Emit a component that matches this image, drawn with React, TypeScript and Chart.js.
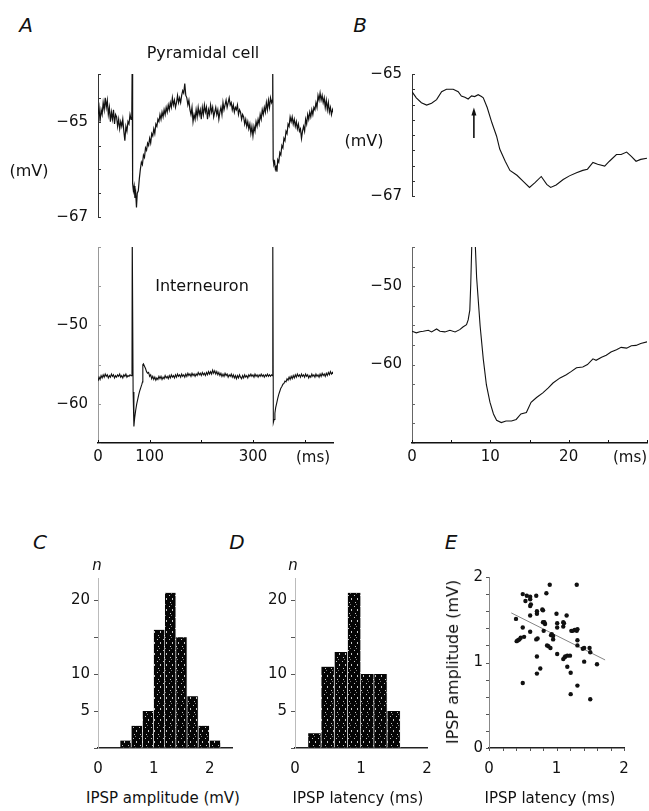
import React, { useEffect, useRef } from "react";
import { Chart, registerables } from "chart.js";

Chart.register(...registerables);

const FONT = "'DejaVu Sans', 'Liberation Sans', Arial, sans-serif";
const MINUS = "\u2212";

// ---------- Panel A, pyramidal cell: [time (ms), membrane potential (mV)]
const PYR_TRACE: [number, number][] = [
  [0,-64.85],[2,-64.7],[4,-65.0],[6,-64.75],[8,-64.85],[10,-64.6],[12,-64.75],[14,-64.5],[16,-64.7],[18,-64.55],
  [20,-64.85],[22,-64.7],[24,-65.0],[26,-64.8],[28,-64.95],[30,-64.75],[32,-65.05],[34,-64.85],[36,-64.9],[38,-65.1],
  [40,-64.95],[42,-65.15],[44,-65.0],[46,-65.1],[48,-64.95],[50,-65.2],[52,-65.4],[54,-65.1],[56,-65.2],[58,-65.0],
  [60,-65.05],[62,-64.85],[64,-64.95],[65.5,-64.8],[66.2,-63.8],[66.8,-63.8],[67.3,-66.3],[68.5,-66.45],[70,-66.35],
  [71.5,-66.6],[73,-66.5],[74.5,-66.8],[76,-66.5],[78,-66.45],[80,-66.2],[82,-66.0],[84,-65.85],[86,-65.9],[88,-65.7],
  [90,-65.75],[92,-65.55],[94,-65.6],[96,-65.45],[98,-65.5],[100,-65.35],[102,-65.45],[104,-65.25],[106,-65.3],
  [108,-65.15],[110,-65.25],[112,-65.05],[114,-65.1],[116,-64.95],[118,-65.0],[120,-64.85],[122,-64.95],[124,-64.8],
  [126,-64.9],[128,-64.75],[130,-64.85],[132,-64.7],[134,-64.8],[136,-64.65],[138,-64.75],[140,-64.6],[142,-64.7],
  [144,-64.5],[146,-64.65],[148,-64.55],[150,-64.7],[152,-64.6],[154,-64.45],[156,-64.6],[158,-64.5],[160,-64.6],
  [162,-64.45],[164,-64.35],[166,-64.4],[168,-64.2],[170,-64.45],[172,-64.5],[174,-64.65],[176,-64.55],[178,-64.75],
  [180,-64.85],[182,-64.7],[184,-65.0],[186,-64.85],[188,-64.95],[190,-64.75],[192,-64.9],[194,-64.7],[196,-64.85],
  [198,-64.75],[200,-64.95],[202,-64.7],[204,-64.85],[206,-64.65],[208,-64.8],[210,-64.7],[212,-64.95],[214,-64.75],
  [216,-64.85],[218,-64.65],[220,-64.8],[222,-64.7],[224,-64.9],[226,-64.8],[228,-64.7],[230,-64.85],[232,-64.75],
  [234,-64.95],[236,-64.8],[238,-64.7],[240,-64.85],[242,-64.6],[244,-64.75],[246,-64.65],[248,-64.55],[250,-64.7],
  [252,-64.6],[254,-64.5],[256,-64.65],[258,-64.6],[260,-64.75],[262,-64.65],[264,-64.8],[266,-64.7],[268,-64.75],
  [270,-64.65],[272,-64.85],[274,-64.75],[276,-64.8],[278,-64.95],[280,-64.85],[282,-64.9],[284,-65.05],[286,-64.95],
  [288,-65.1],[290,-65.0],[292,-65.15],[294,-65.05],[296,-65.25],[298,-65.1],[300,-65.3],[302,-65.1],[304,-65.2],
  [306,-65.0],[308,-65.1],[310,-64.95],[312,-65.05],[314,-64.85],[316,-64.95],[318,-64.75],[320,-64.85],[322,-64.7],
  [324,-64.8],[326,-64.6],[328,-64.75],[330,-64.55],[332,-64.7],[334,-64.5],[336,-64.6],[337.5,-64.55],[338,-63.8],
  [338.6,-63.8],[339.2,-65.8],[340.5,-65.9],[342,-65.85],[343.5,-66.0],[345,-65.95],[346.5,-66.05],[348,-65.8],
  [350,-65.85],[352,-65.65],[354,-65.7],[356,-65.5],[358,-65.55],[360,-65.35],[362,-65.4],[364,-65.2],[366,-65.25],
  [368,-65.05],[370,-65.1],[372,-64.9],[374,-65.0],[376,-64.9],[378,-65.05],[380,-64.95],[382,-65.1],[384,-65.0],
  [386,-65.15],[388,-65.05],[390,-65.2],[392,-65.15],[394,-65.35],[396,-65.2],[398,-65.1],[400,-65.2],[402,-64.95],
  [404,-65.05],[406,-64.85],[408,-64.95],[410,-64.8],[412,-64.9],[414,-64.75],[416,-64.85],[418,-64.7],[420,-64.75],
  [422,-64.6],[424,-64.7],[426,-64.45],[428,-64.55],[430,-64.4],[432,-64.55],[434,-64.45],[436,-64.6],[438,-64.5],
  [440,-64.7],[442,-64.55],[444,-64.75],[446,-64.6],[448,-64.8],[450,-64.7],[452,-64.85],[454,-64.75],[455,-64.8],
];

// ---------- Panel A, interneuron: [time (ms), mV]
const INT_TRACE: [number, number][] = [
  [0,-57.1],[2,-56.6],[4,-56.9],[6,-56.4],[8,-56.7],[10,-56.3],[12,-56.6],[14,-56.2],[16,-56.5],[18,-56.3],[20,-56.7],
  [22,-56.4],[24,-56.6],[26,-56.2],[28,-56.5],[30,-56.3],[32,-56.7],[34,-56.4],[36,-56.6],[38,-56.3],[40,-56.5],
  [42,-56.2],[44,-56.6],[46,-56.4],[48,-56.7],[50,-56.3],[52,-56.5],[54,-56.2],[56,-56.6],[58,-56.4],[60,-56.5],
  [62,-56.3],[64,-56.4],[65.8,-56.2],[66.3,-38],[67.0,-38],[68.0,-58.5],[69.5,-62.9],[71,-61.8],[73,-60.8],[75,-60.0],
  [77,-59.4],[79,-58.8],[81,-58.3],[83,-57.9],[85,-57.5],[86.2,-57.2],[86.8,-55.0],[88,-54.9],[90,-55.2],[92,-55.5],
  [94,-55.9],[96,-56.1],[98,-56.0],[100,-56.5],[102,-56.3],[104,-56.8],[106,-56.5],[108,-56.9],[110,-56.6],[112,-57.0],
  [114,-56.7],[116,-56.9],[118,-56.5],[120,-56.8],[122,-56.5],[124,-56.9],[126,-56.6],[128,-56.8],[130,-56.4],
  [132,-56.7],[134,-56.5],[136,-56.8],[138,-56.4],[140,-56.7],[142,-56.3],[144,-56.6],[146,-56.4],[148,-56.7],
  [150,-56.3],[152,-56.6],[154,-56.2],[156,-56.5],[158,-56.3],[160,-56.6],[162,-56.2],[164,-56.5],[166,-56.3],
  [168,-56.6],[170,-56.2],[172,-56.5],[174,-56.1],[176,-56.4],[178,-56.2],[180,-56.5],[182,-56.1],[184,-56.4],
  [186,-56.2],[188,-56.5],[190,-56.2],[192,-56.4],[194,-56.0],[196,-56.3],[198,-56.1],[200,-56.4],[202,-56.0],
  [204,-56.3],[206,-56.1],[208,-56.4],[210,-56.0],[212,-56.3],[214,-55.9],[216,-56.2],[218,-55.9],[220,-56.2],
  [222,-55.7],[224,-56.1],[226,-55.8],[228,-56.2],[230,-55.9],[232,-56.3],[234,-56.0],[236,-56.4],[238,-56.1],
  [240,-56.5],[242,-56.2],[244,-56.5],[246,-56.1],[248,-56.4],[250,-56.2],[252,-56.6],[254,-56.3],[256,-56.5],
  [258,-56.2],[260,-56.6],[262,-56.3],[264,-56.7],[266,-56.4],[268,-56.8],[270,-56.4],[272,-56.7],[274,-56.3],
  [276,-56.6],[278,-56.8],[280,-56.4],[282,-56.7],[284,-56.3],[286,-56.6],[288,-56.4],[290,-56.7],[292,-56.3],
  [294,-56.5],[296,-56.2],[298,-56.5],[300,-56.3],[302,-56.6],[304,-56.2],[306,-56.5],[308,-56.3],[310,-56.6],
  [312,-56.3],[314,-56.5],[316,-56.2],[318,-56.5],[320,-56.3],[322,-56.6],[324,-56.3],[326,-56.5],[328,-56.2],
  [330,-56.5],[332,-56.3],[334,-56.5],[336,-56.3],[337.6,-56.4],[338.1,-38],[338.7,-38],[339.5,-62.4],[341,-62.0],
  [342.5,-61.2],[344,-60.5],[346,-59.9],[348,-59.3],[350,-58.8],[352,-58.4],[354,-58.0],[356,-57.8],[358,-57.5],
  [360,-57.4],[362,-57.1],[364,-57.2],[366,-56.8],[368,-57.0],[370,-56.6],[372,-56.9],[374,-56.5],[376,-56.8],
  [378,-56.4],[380,-56.7],[382,-56.3],[384,-56.6],[386,-56.2],[388,-56.5],[390,-56.3],[392,-56.6],[394,-56.2],
  [396,-56.5],[398,-56.3],[400,-56.6],[402,-56.2],[404,-56.5],[406,-56.3],[408,-56.7],[410,-56.4],[412,-56.6],
  [414,-56.2],[416,-56.5],[418,-56.3],[420,-56.6],[422,-56.2],[424,-56.5],[426,-56.3],[428,-56.6],[430,-56.2],
  [432,-56.5],[434,-56.1],[436,-56.4],[438,-56.2],[440,-56.5],[442,-56.1],[444,-56.4],[446,-56.0],[448,-56.3],
  [450,-55.9],[452,-56.2],[454,-56.0],[455,-56.2],
];

// ---------- Panel B, pyramidal cell (expanded): [time (ms), mV]
const B_PYR_TRACE: [number, number][] = [
  [0,-65.29],[0.55,-65.39],[1.2,-65.47],[1.87,-65.51],[2.5,-65.48],[3.14,-65.42],[3.78,-65.29],[4.4,-65.25],
  [5.26,-65.25],[5.9,-65.29],[6.3,-65.36],[6.75,-65.38],[7.17,-65.41],[7.6,-65.36],[8.0,-65.37],[8.45,-65.34],
  [8.87,-65.37],[9.1,-65.39],[9.6,-65.55],[10.2,-65.8],[10.8,-66.02],[11.2,-66.23],[11.9,-66.43],[12.5,-66.58],
  [13.4,-66.66],[14.2,-66.76],[15.0,-66.86],[15.7,-66.78],[16.5,-66.68],[17.2,-66.81],[17.7,-66.86],[18.4,-66.82],
  [19.3,-66.73],[20.1,-66.67],[21.0,-66.62],[21.8,-66.58],[22.4,-66.56],[23.1,-66.45],[23.7,-66.48],[24.6,-66.51],
  [25.2,-66.43],[26.1,-66.32],[26.7,-66.32],[27.4,-66.28],[28.0,-66.35],[28.6,-66.43],[29.2,-66.40],[30.0,-66.38],
];
const ARROW_T = 7.9;
const ARROW_FROM = -66.05;
const ARROW_TO = -65.55;

// ---------- Panel B, interneuron (expanded): [time (ms), mV]
const B_INT_TRACE: [number, number][] = [
  [0,-55.74],[0.55,-55.95],[1.0,-55.8],[1.44,-55.74],[2.08,-55.62],[2.5,-55.83],[3.14,-55.45],[3.57,-55.74],
  [4.2,-55.83],[4.84,-55.62],[5.5,-55.83],[6.1,-55.54],[6.5,-55.2],[6.96,-54.9],[7.17,-54.3],[7.38,-53.06],
  [7.5,-49.75],[7.65,-44],[8.05,-44],[8.25,-48.9],[8.7,-55.1],[9.1,-59.3],[9.5,-62.6],[9.95,-64.8],[10.4,-66.3],
  [10.8,-67.1],[11.4,-67.4],[12.0,-67.2],[12.7,-67.2],[13.3,-67.0],[13.9,-66.3],[14.6,-66.1],[15.2,-64.8],
  [15.9,-64.2],[16.7,-63.6],[17.4,-62.97],[18.0,-62.35],[18.9,-61.7],[19.7,-61.3],[20.3,-60.9],[21.0,-60.4],
  [21.8,-60.3],[22.4,-60.0],[23.1,-59.26],[23.5,-59.45],[24.2,-59.05],[24.8,-58.8],[25.4,-58.4],[26.1,-58.1],
  [26.7,-57.8],[27.4,-57.9],[28.0,-57.6],[28.6,-57.55],[29.2,-57.3],[30.0,-57.1],
];

// ---------- Axis ticks
const A_X_TICKS = [0, 100, 200, 300, 400];
const A_X_LABELS = [0, 100, 300];
const A_TOP_Y_TICKS = [-67, -66.5, -66, -65.5, -65, -64.5, -64];
const A_TOP_Y_LABELS = [-67, -65];
const A_BOT_Y_TICKS = [-65, -60, -55, -50, -45, -40];
const A_BOT_Y_LABELS = [-60, -50];
const B_X_TICKS = [0, 5, 10, 15, 20, 25, 30];
const B_X_LABELS = [0, 10, 20];
const B_TOP_Y_TICKS = [-67, -66.75, -66.5, -66.25, -66, -65.75, -65.5, -65.25, -65];
const B_TOP_Y_LABELS = [-67, -65];
const B_BOT_Y_TICKS = [-70, -67.5, -65, -62.5, -60, -57.5, -55, -52.5, -50, -47.5, -45];
const B_BOT_Y_LABELS = [-60, -50];

// ---------- Panel C: IPSP amplitude histogram
const AMP_BINS = [0.5, 0.7, 0.9, 1.1, 1.3, 1.5, 1.7, 1.9, 2.1];
const AMP_COUNTS = [1, 3, 5, 16, 21, 15, 7, 3, 1];
// ---------- Panel D: IPSP latency histogram
const LAT_BINS = [0.3, 0.5, 0.7, 0.9, 1.1, 1.3, 1.5];
const LAT_COUNTS = [2, 11, 13, 21, 10, 10, 5];
const HIST_Y_TICKS = [0, 5, 10, 15, 20];
const HIST_Y_LABELS = [5, 10, 20];
const HIST_X_TICKS = [0, 1, 2];

// ---------- Panel E: latency (ms) vs amplitude (mV)
const SCATTER: [number, number][] = [
  [0.40,1.51],[0.41,1.25],[0.43,1.26],[0.45,1.27],[0.47,1.29],[0.50,1.80],[0.50,1.41],[0.50,0.76],[0.52,1.30],
  [0.54,1.72],[0.56,1.78],[0.61,1.77],[0.61,1.74],[0.61,1.66],[0.61,1.55],[0.61,1.36],[0.62,1.68],[0.70,1.78],
  [0.70,1.27],[0.71,1.60],[0.71,1.57],[0.71,1.07],[0.71,0.87],[0.72,1.28],[0.76,0.93],[0.79,1.62],[0.80,1.61],
  [0.80,1.47],[0.81,1.37],[0.82,1.47],[0.83,1.45],[0.85,1.81],[0.86,1.20],[0.88,1.19],[0.90,1.91],[0.91,1.17],
  [0.92,1.32],[0.93,1.33],[0.95,1.31],[0.95,1.27],[1.00,1.57],[1.01,1.46],[1.01,1.41],[1.01,1.10],[1.10,1.47],
  [1.10,1.42],[1.10,1.04],[1.11,1.46],[1.12,1.06],[1.13,1.07],[1.15,1.55],[1.16,1.08],[1.16,0.95],[1.20,1.08],
  [1.21,0.88],[1.21,0.63],[1.22,1.37],[1.24,1.37],[1.27,1.38],[1.30,1.91],[1.30,1.37],[1.31,1.39],[1.31,1.26],
  [1.31,1.20],[1.31,0.73],[1.39,1.16],[1.41,1.17],[1.41,1.01],[1.49,1.17],[1.50,1.12],[1.50,0.57],[1.60,0.98],
];
const FIT_LINE: [number, number][] = [[0.33, 1.58], [1.72, 1.03]];
const E_TICKS = [0, 0.2, 0.4, 0.6, 0.8, 1, 1.2, 1.4, 1.6, 1.8, 2];
const E_LABELS = [0, 1, 2];

// ---------- helpers
type Rect = { l: number; t: number; r: number; b: number };

function boxOf(a: Rect, m: Rect) {
  return {
    left: a.l - m.l,
    top: a.t - m.t,
    width: a.r - a.l + m.l + m.r,
    height: a.b - a.t + m.t + m.b,
  };
}

function fmt(v: number) {
  return v < 0 ? MINUS + Math.abs(v) : String(v);
}

function labelFor(v: number, labels: number[]) {
  return labels.some((l) => Math.abs(l - v) < 1e-9) ? fmt(v) : "";
}

function toXY(arr: [number, number][]) {
  return arr.map(([x, y]) => ({ x, y }));
}

const tickMarks = {
  id: "tickMarks",
  afterDraw(chart: any, _args: any, opts: any) {
    const ctx = chart.ctx;
    for (const id of ["x", "y"]) {
      const cfg = opts && opts[id];
      const s = chart.scales[id];
      if (!cfg || !s) continue;
      ctx.save();
      ctx.strokeStyle = cfg.color;
      ctx.lineWidth = 1;
      ctx.beginPath();
      for (const t of s.ticks) {
        const p = Math.round(s.getPixelForValue(t.value)) + 0.5;
        if (id === "y") {
          const x0 = s.right;
          const x1 = cfg.inward ? x0 + cfg.len : x0 - cfg.len;
          ctx.moveTo(x0, p);
          ctx.lineTo(x1, p);
        } else {
          const y0 = s.top;
          const y1 = cfg.inward ? y0 - cfg.len : y0 + cfg.len;
          ctx.moveTo(p, y0);
          ctx.lineTo(p, y1);
        }
      }
      ctx.stroke();
      ctx.restore();
    }
  },
};

const arrowPlugin = {
  id: "arrow",
  afterDatasetsDraw(chart: any, _args: any, opts: any) {
    if (!opts || opts.t == null) return;
    const ctx = chart.ctx;
    const x = chart.scales.x.getPixelForValue(opts.t);
    const y0 = chart.scales.y.getPixelForValue(opts.from);
    const y1 = chart.scales.y.getPixelForValue(opts.to);
    ctx.save();
    ctx.strokeStyle = "#111";
    ctx.fillStyle = "#111";
    ctx.lineWidth = 1.6;
    ctx.beginPath();
    ctx.moveTo(x, y0);
    ctx.lineTo(x, y1 + 6);
    ctx.stroke();
    ctx.beginPath();
    ctx.moveTo(x, y1);
    ctx.lineTo(x - 2.5, y1 + 8);
    ctx.lineTo(x + 2.5, y1 + 8);
    ctx.closePath();
    ctx.fill();
    ctx.restore();
  },
};

function yAxis(o: {
  min: number; max: number; ticks: number[]; labels: number[]; m: Rect;
  color: string; padding: number;
}) {
  return {
    type: "linear",
    position: "left",
    min: o.min,
    max: o.max,
    afterFit: (s: any) => { s.width = o.m.l; },
    afterBuildTicks: (s: any) => { s.ticks = o.ticks.map((v) => ({ value: v })); },
    grid: { display: true, drawOnChartArea: false, drawTicks: false },
    border: { display: true, color: o.color, width: 1 },
    ticks: {
      padding: o.padding,
      color: "#111",
      autoSkip: false,
      font: { family: FONT, size: 15 },
      callback: (v: number) => labelFor(v, o.labels),
    },
  };
}

function xAxis(o: {
  min: number; max: number; ticks: number[]; labels: number[]; m: Rect; display: boolean;
  padding: number; color?: string;
}) {
  const ax: any = {
    type: "linear",
    position: "bottom",
    display: o.display,
    min: o.min,
    max: o.max,
    offset: false,
    afterBuildTicks: (s: any) => { s.ticks = o.ticks.map((v) => ({ value: v })); },
    grid: { display: true, drawOnChartArea: false, drawTicks: false, offset: false },
    border: { display: true, color: o.color || "#111", width: 1.5 },
    ticks: {
      padding: o.padding,
      color: "#111",
      autoSkip: false,
      maxRotation: 0,
      font: { family: FONT, size: 15 },
      callback: (v: number) => labelFor(v, o.labels),
    },
  };
  if (o.display) ax.afterFit = (s: any) => { s.height = o.m.b; };
  return ax;
}

function baseOptions(m: Rect, xDisplay: boolean, extraPlugins: any) {
  return {
    responsive: false,
    animation: false,
    events: [],
    layout: { padding: { left: 0, top: m.t, right: m.r, bottom: xDisplay ? 0 : m.b } },
    elements: { point: { radius: 0 }, line: { tension: 0 } },
    plugins: { legend: { display: false }, tooltip: { enabled: false }, ...extraPlugins },
  };
}

function traceConfig(o: {
  data: [number, number][]; m: Rect; xMin: number; xMax: number; xTicks: number[];
  xLabels: number[]; xDisplay: boolean; yMin: number; yMax: number; yTicks: number[]; yLabels: number[];
  yColor: string; lineWidth: number; arrow?: any;
}) {
  const plugins: any = {
    tickMarks: {
      y: { len: 3, inward: true, color: o.yColor },
      ...(o.xDisplay ? { x: { len: 3, inward: true, color: "#111" } } : {}),
    },
  };
  if (o.arrow) plugins.arrow = o.arrow;
  return {
    type: "line",
    data: {
      datasets: [{
        data: toXY(o.data),
        borderColor: "#111",
        borderWidth: o.lineWidth,
        pointRadius: 0,
        fill: false,
      }],
    },
    options: {
      ...baseOptions(o.m, o.xDisplay, plugins),
      scales: {
        x: xAxis({ min: o.xMin, max: o.xMax, ticks: o.xTicks, labels: o.xLabels, m: o.m, display: o.xDisplay, padding: 5 }),
        y: yAxis({ min: o.yMin, max: o.yMax, ticks: o.yTicks, labels: o.yLabels, m: o.m, color: o.yColor, padding: 10 }),
      },
    },
    plugins: [tickMarks, arrowPlugin],
  };
}

function speckle(ctx: CanvasRenderingContext2D) {
  const p = document.createElement("canvas");
  p.width = 6;
  p.height = 11;
  const g = p.getContext("2d")!;
  g.fillStyle = "#050505";
  g.fillRect(0, 0, 6, 11);
  g.fillStyle = "#c8c8c8";
  g.fillRect(1, 1, 1, 1);
  g.fillRect(4, 4, 1, 2);
  g.fillRect(2, 8, 1, 1);
  g.fillStyle = "#777";
  g.fillRect(3, 10, 1, 1);
  return ctx.createPattern(p, "repeat");
}

function histConfig(o: { bins: number[]; counts: number[]; m: Rect; xMax: number }) {
  return (ctx: CanvasRenderingContext2D) => ({
    type: "bar",
    data: {
      datasets: [{
        data: o.bins.map((b, i) => ({ x: b, y: o.counts[i] })),
        backgroundColor: speckle(ctx),
        borderColor: "#f2f2f2",
        borderWidth: { left: 0, right: 1, top: 0, bottom: 0 },
        borderSkipped: false,
        barPercentage: 1,
        categoryPercentage: 1,
      }],
    },
    options: {
      ...baseOptions(o.m, true, {
        tickMarks: { y: { len: 4, inward: false, color: "#555" } },
      }),
      scales: {
        x: xAxis({
          min: 0, max: o.xMax, ticks: HIST_X_TICKS, labels: HIST_X_TICKS, m: o.m, display: true, padding: 12,
          color: "#222",
        }),
        y: yAxis({
          min: 0, max: 23, ticks: HIST_Y_TICKS, labels: HIST_Y_LABELS, m: o.m, color: "#bbb", padding: 8,
        }),
      },
    },
    plugins: [tickMarks],
  });
}

// ---------- layout (chart areas in page pixels)
const A_TOP_AREA = { l: 98, t: 69, r: 333, b: 222 };
const A_TOP_M = { l: 90, t: 14, r: 14, b: 14 };
const A_BOT_AREA = { l: 98, t: 242, r: 333, b: 443 };
const A_BOT_M = { l: 90, t: 14, r: 16, b: 40 };
const B_TOP_AREA = { l: 412, t: 69, r: 647, b: 201 };
const B_TOP_M = { l: 80, t: 14, r: 10, b: 14 };
const B_BOT_AREA = { l: 412, t: 242, r: 647, b: 443 };
const B_BOT_M = { l: 80, t: 14, r: 10, b: 40 };
const C_AREA = { l: 98, t: 575, r: 232, b: 748 };
const C_M = { l: 80, t: 14, r: 30, b: 40 };
const D_AREA = { l: 295, t: 575, r: 427, b: 748 };
const D_M = { l: 80, t: 14, r: 30, b: 40 };
const E_AREA = { l: 489, t: 576, r: 624, b: 748 };
const E_M = { l: 30, t: 14, r: 20, b: 40 };

function ChartBox({ area, m, make }: { area: Rect; m: Rect; make: (ctx: CanvasRenderingContext2D) => any }) {
  const ref = useRef<HTMLCanvasElement>(null);
  const box = boxOf(area, m);
  useEffect(() => {
    const c = ref.current!;
    const chart = new Chart(c, make(c.getContext("2d")!));
    return () => chart.destroy();
  }, []);
  return (
    <canvas
      ref={ref}
      width={box.width}
      height={box.height}
      style={{ position: "absolute", left: box.left, top: box.top, width: box.width, height: box.height }}
    />
  );
}

function Txt({ x, y, size, italic, spacing, rotate, children }: any) {
  return (
    <div
      style={{
        position: "absolute",
        left: x,
        top: y,
        transform: "translate(-50%, -50%)" + (rotate ? ` rotate(${rotate}deg)` : ""),
        fontFamily: FONT,
        fontSize: size,
        fontStyle: italic ? "italic" : "normal",
        letterSpacing: spacing || 0,
        lineHeight: 1,
        whiteSpace: "nowrap",
        color: "#111",
      }}
    >
      {children}
    </div>
  );
}

const scatterMake = () => ({
  type: "scatter",
  data: {
    datasets: [
      {
        data: toXY(SCATTER),
        backgroundColor: "#111",
        borderColor: "#111",
        pointRadius: 2.2,
        borderWidth: 0,
      },
      {
        data: toXY(FIT_LINE),
        showLine: true,
        borderColor: "#777",
        borderWidth: 0.9,
        pointRadius: 0,
      },
    ],
  },
  options: {
    ...baseOptions(E_M, true, {
      tickMarks: {
        y: { len: 3, inward: false, color: "#555" },
        x: { len: 3, inward: false, color: "#555" },
      },
    }),
    scales: {
      x: xAxis({
        min: 0, max: 2, ticks: E_TICKS, labels: E_LABELS, m: E_M, display: true, padding: 12, color: "#222",
      }),
      y: yAxis({
        min: 0, max: 2, ticks: E_TICKS, labels: E_LABELS, m: E_M, color: "#888", padding: 6,
      }),
    },
  },
  plugins: [tickMarks],
});

export default function App() {
  return (
    <div
      style={{
        position: "fixed",
        left: 0,
        top: 0,
        width: 649,
        height: 811,
        overflow: "hidden",
        background: "#fff",
      }}
    >
      <ChartBox
        area={A_TOP_AREA}
        m={A_TOP_M}
        make={() => traceConfig({
          data: PYR_TRACE, m: A_TOP_M, xMin: 0, xMax: 455, xTicks: A_X_TICKS,
          xLabels: A_X_LABELS, xDisplay: false, yMin: -67, yMax: -64, yTicks: A_TOP_Y_TICKS,
          yLabels: A_TOP_Y_LABELS, yColor: "#333", lineWidth: 1.2,
        })}
      />
      <ChartBox
        area={A_BOT_AREA}
        m={A_BOT_M}
        make={() => traceConfig({
          data: INT_TRACE, m: A_BOT_M, xMin: 0, xMax: 455, xTicks: A_X_TICKS,
          xLabels: A_X_LABELS, xDisplay: true, yMin: -65, yMax: -40, yTicks: A_BOT_Y_TICKS,
          yLabels: A_BOT_Y_LABELS, yColor: "#999", lineWidth: 1.1,
        })}
      />
      <ChartBox
        area={B_TOP_AREA}
        m={B_TOP_M}
        make={() => traceConfig({
          data: B_PYR_TRACE, m: B_TOP_M, xMin: 0, xMax: 30, xTicks: B_X_TICKS,
          xLabels: B_X_LABELS, xDisplay: false, yMin: -67, yMax: -65, yTicks: B_TOP_Y_TICKS,
          yLabels: B_TOP_Y_LABELS, yColor: "#333", lineWidth: 1.1,
          arrow: { t: ARROW_T, from: ARROW_FROM, to: ARROW_TO },
        })}
      />
      <ChartBox
        area={B_BOT_AREA}
        m={B_BOT_M}
        make={() => traceConfig({
          data: B_INT_TRACE, m: B_BOT_M, xMin: 0, xMax: 30, xTicks: B_X_TICKS,
          xLabels: B_X_LABELS, xDisplay: true, yMin: -70, yMax: -45, yTicks: B_BOT_Y_TICKS,
          yLabels: B_BOT_Y_LABELS, yColor: "#666", lineWidth: 1.1,
        })}
      />
      <ChartBox area={C_AREA} m={C_M} make={histConfig({ bins: AMP_BINS, counts: AMP_COUNTS, m: C_M, xMax: 2.4 })} />
      <ChartBox area={D_AREA} m={D_M} make={histConfig({ bins: LAT_BINS, counts: LAT_COUNTS, m: D_M, xMax: 2 })} />
      <ChartBox area={E_AREA} m={E_M} make={scatterMake} />

      <Txt x={26} y={25} size={20} italic>A</Txt>
      <Txt x={360} y={25} size={20} italic>B</Txt>
      <Txt x={203} y={53} size={16}>Pyramidal cell</Txt>
      <Txt x={202} y={286} size={16}>Interneuron</Txt>
      <Txt x={29} y={171} size={16}>(mV)</Txt>
      <Txt x={364} y={141} size={16}>(mV)</Txt>
      <Txt x={313} y={457} size={15}>(ms)</Txt>
      <Txt x={630} y={457} size={15}>(ms)</Txt>
      <Txt x={40} y={542} size={20} italic>C</Txt>
      <Txt x={237} y={542} size={20} italic>D</Txt>
      <Txt x={451} y={542} size={20} italic>E</Txt>
      <Txt x={97} y={565} size={15} italic>n</Txt>
      <Txt x={293} y={565} size={15} italic>n</Txt>
      <Txt x={163} y={798} size={15}>IPSP amplitude (mV)</Txt>
      <Txt x={358} y={798} size={15}>IPSP latency (ms)</Txt>
      <Txt x={550} y={798} size={15}>IPSP latency (ms)</Txt>
      <Txt x={453} y={662} size={16} rotate={-90}>IPSP amplitude (mV)</Txt>
    </div>
  );
}
